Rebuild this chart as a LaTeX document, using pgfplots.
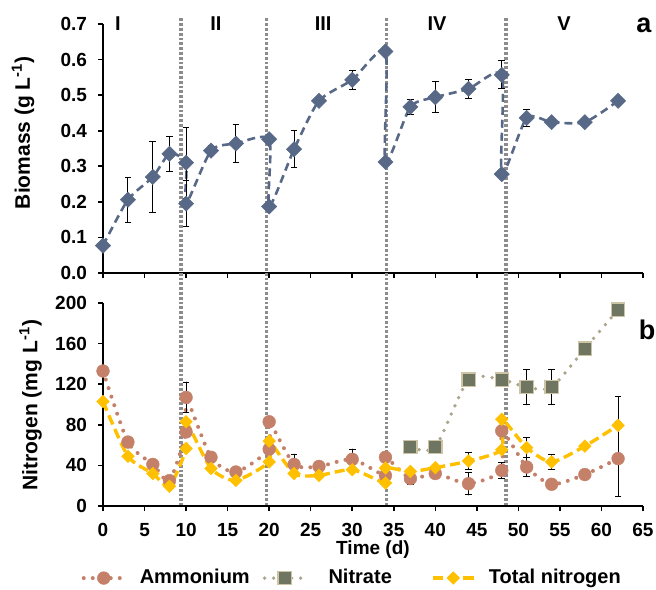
\documentclass[border=0pt]{standalone}
\usepackage{pgfplots}
\pgfplotsset{compat=1.18}
\usepackage{fontspec}
\setmainfont{Liberation Sans}

\definecolor{bio}{RGB}{88,104,135}
\definecolor{amm}{RGB}{196,128,104}
\definecolor{nitf}{RGB}{110,118,98}
\definecolor{nitl}{RGB}{172,166,140}
\definecolor{nitb}{RGB}{205,196,165}
\definecolor{tn}{RGB}{255,192,0}
\definecolor{vl}{RGB}{140,140,140}

\newcommand{\tickfont}{\fontsize{9.5}{11}\selectfont\bfseries}
\newcommand{\labfont}{\fontsize{10.5}{12}\selectfont\bfseries}

\pgfplotsset{
 base/.style={
  scale only axis, width=270pt, xmin=0, xmax=65,
  axis x line*=bottom, axis y line*=left,
  axis line style={line width=0.8pt, -},
  tick align=outside, major tick length=2.5pt,
  every tick/.style={black, line width=0.8pt},
  xtick={0,5,...,65},
  clip=false,
  /pgf/number format/assume math mode=true,
  error bars/error bar style={solid, black, line width=0.5pt},
  error bars/error mark options={solid, rotate=90, mark size=1.7pt, black, line width=0.5pt},
 },
}

\begin{document}
\begin{tikzpicture}
% ---------- top panel ----------
\begin{axis}[base, height=124.5pt, ymin=0, ymax=0.7,
  ytick={0,0.1,0.2,0.3,0.4,0.5,0.6,0.7},
  xticklabels={},
  yticklabel style={font=\tickfont, xshift=-2pt, /pgf/number format/.cd, fixed, fixed zerofill, precision=1, assume math mode=true},
  ylabel={Biomass (g L\textsuperscript{-1})},
  every axis y label/.style={at={(axis description cs:-0.148,0.564)}, rotate=90, anchor=center, font=\labfont},
]
\foreach \xv in {9.4,19.7,34.1,48.5}{
  \edef\tmp{\noexpand\draw[vl, line width=1.7pt, dash pattern=on 1.4pt off 1.0pt] (axis cs:\xv,-0.655) -- (axis cs:\xv,0.717);}
  \tmp
}
\addplot[bio, line width=1.3pt, dash pattern=on 4pt off 2.5pt, smooth, tension=0.4,
  mark=square*, mark size=2.7pt, mark options={solid, rotate=45, fill=bio, draw=bio, line width=0.2pt},
  error bars/.cd, y dir=both, y explicit] coordinates {
(0,0.077) (3,0.206) +- (0,0.063) (6,0.270) +- (0,0.099) (8,0.335) +- (0,0.049)
(10,0.310) +- (0,0.10) (10,0.195) +- (0,0.064) (13,0.344) +- (0,0.015) (16,0.364) +- (0,0.053)
(20,0.376) (20,0.187) (23,0.348) +- (0,0.052) (26,0.484) (30,0.543) +- (0,0.027)
(34,0.623) (34,0.312) (37,0.467) +- (0,0.022) (40,0.494) +- (0,0.044) (44,0.518) +- (0,0.027)
(48,0.557) +- (0,0.039) (48,0.278) (51,0.436) +- (0,0.025) (54,0.424) (58,0.424) (62,0.484)
};
\node[font=\fontsize{10}{12}\selectfont\bfseries] at (axis cs:1.8,0.7) {I};
\node[font=\fontsize{10}{12}\selectfont\bfseries] at (axis cs:13.6,0.7) {II};
\node[font=\fontsize{10}{12}\selectfont\bfseries] at (axis cs:26.5,0.7) {III};
\node[font=\fontsize{10}{12}\selectfont\bfseries] at (axis cs:40.2,0.7) {IV};
\node[font=\fontsize{10}{12}\selectfont\bfseries] at (axis cs:55.5,0.7) {V};
\node[font=\fontsize{13.5}{15}\selectfont\bfseries] at (axis cs:65.1,0.697) {a};
\end{axis}
% ---------- bottom panel ----------
\begin{axis}[base, at={(0,-116.5pt)}, height=101.5pt, ymin=0, ymax=200,
  ytick={0,40,80,120,160,200},
  xticklabels={0,5,10,15,20,25,30,35,40,45,50,55,60,65},
  xticklabel style={font=\tickfont, yshift=-2.5pt},
  yticklabel style={font=\tickfont, xshift=-2pt},
  xlabel={Time (d)},
  every axis x label/.style={at={(axis description cs:0.5,-0.241)}, anchor=base, font=\tickfont},
  ylabel={Nitrogen (mg L\textsuperscript{-1})},
  every axis y label/.style={at={(axis description cs:-0.134,0.4975)}, rotate=90, anchor=center, font=\labfont},
  legend columns=3,
  legend image code/.code={\draw[mark repeat=2,mark phase=2,#1] plot coordinates {(0pt,0pt) (10pt,0pt) (20pt,0pt)};},
  legend style={draw=none, fill=none, inner sep=0pt, at={(axis description cs:0.459,-0.355)}, anchor=center,
    font=\fontsize{10}{12}\selectfont\bfseries, column sep=0pt,
    nodes={inner sep=0pt}},
]
\addplot[amm, line width=2pt, line cap=round, dash pattern=on 0pt off 4.5pt, smooth, tension=0.4,
  mark=*, mark size=3.2pt, mark options={solid, fill=amm, draw=amm, line width=0.2pt},
  error bars/.cd, y dir=both, y explicit] coordinates {
(0,133) (3,63) (6,41) (8,25) (10,73) (10,107) +- (0,15) (13,48) (16,33.5)
(20,56) (20,83) (23,41) +- (0,10) (26,39) (30,46) +- (0,10) (34,30) (34,48)
(37,27) +- (0,6) (40,32) (44,22) +- (0,11) (48,35) +- (0,7.5) (48,74)
(51,38.4) +- (0,9.5) (54,21.4) +- (0,3) (58,31) +- (0,3) (62,46.7) +- (0,37)
};
\addlegendentry{\makebox[68.5pt][l]{\hspace{7pt}Ammonium}}
\addplot[nitl, line width=1.9pt, line cap=round, dash pattern=on 0pt off 4.5pt, smooth, tension=0.4,
  mark=square*, mark size=3.3pt, mark options={solid, fill=nitf, draw=nitb, line width=0.6pt},
  error bars/.cd, y dir=both, y explicit] coordinates {
(37,58) (40,58) (44,124.5) (48,124.5) (51,117) +- (0,17) (54,117) +- (0,17) (58,155) (62,193.5)
};
\addlegendentry{\makebox[62.5pt][l]{\hspace{11pt}Nitrate}}
\addplot[tn, line width=1.7pt, dash pattern=on 5pt off 2.5pt, smooth, tension=0.4,
  mark=square*, mark size=2.25pt, mark options={solid, rotate=45, fill=tn, draw=tn, line width=0.2pt},
  error bars/.cd, y dir=both, y explicit] coordinates {
(0,103) (3,49) (6,32) (8,19.4) (10,56.5) (10,83) (13,37) (16,25.3)
(20,43.4) (20,64) (23,32) (26,30.2) (30,35.8) (34,22.7) (34,37.5) (37,34) (40,37.8)
(44,44.3) +- (0,8) (48,55.5) (48,85.4) (51,57.5) +- (0,10) (54,43.4) +- (0,7) (58,59) (62,79.5) +- (0,28.5)
};
\addlegendentry{\makebox[72.5pt][l]{\hspace{7pt}Total nitrogen}}
\node[font=\fontsize{13.5}{15}\selectfont\bfseries] at (axis cs:65.5,174) {b};
\end{axis}
\pgfresetboundingbox
\useasboundingbox (-51.5pt,-158pt) rectangle (276.5pt,136.5pt);
\end{tikzpicture}
\end{document}
